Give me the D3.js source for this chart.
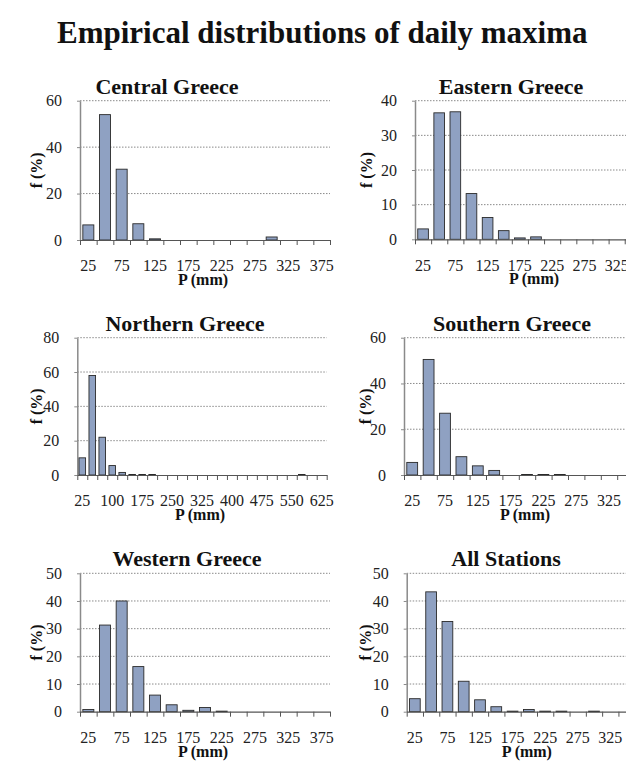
<!DOCTYPE html>
<html><head><meta charset="utf-8"><script src="https://cdn.jsdelivr.net/npm/d3@7"></script></head>
<body style="margin:0">
<svg id="chart" width="626" height="773" font-family="Liberation Serif"></svg>
<script>
// Precipitation classes (mm), 25 mm bins
const pClasses = [25, 50, 75, 100, 125, 150, 175, 200, 225, 250, 275, 300, 325, 350, 375];
const pClassesNorth = [25, 50, 75, 100, 125, 150, 175, 200, 225, 250, 275, 300, 325, 350, 375,
                       400, 425, 450, 475, 500, 525, 550, 575, 600, 625];
const pTickLabels = [25, 75, 125, 175, 225, 275, 325, 375];
const pTickLabelsNorth = [25, 100, 175, 250, 325, 400, 475, 550, 625];

// Relative frequency f (%) of each class, per region
const centralValues  = [6.5, 54, 30.5, 7, 0.5, 0, 0, 0, 0, 0, 0, 1.3, 0, 0, 0];
const easternValues  = [3, 36.5, 36.8, 13.2, 6.3, 2.5, 0.4, 0.7, 0, 0, 0, 0, 0, 0, 0];
const northernValues = [10, 58, 22, 5.5, 1.5, 0.3, 0.3, 0.3, 0, 0, 0, 0, 0, 0, 0,
                        0, 0, 0, 0, 0, 0, 0, 0.3, 0, 0];
const southernValues = [5.5, 50.5, 27, 8, 4, 2, 0, 0.2, 0.2, 0.2, 0, 0, 0, 0, 0];
const westernValues  = [0.8, 31.3, 40, 16.3, 6, 2.5, 0.5, 1.5, 0.2, 0, 0, 0, 0, 0, 0];
const allValues      = [4.7, 43.3, 32.6, 11, 4.3, 1.8, 0.2, 0.8, 0.2, 0.2, 0, 0.2, 0, 0, 0];

// Y-axis ticks per panel
const yTicks60 = [0, 20, 40, 60];
const yTicks40 = [0, 10, 20, 30, 40];
const yTicks80 = [0, 20, 40, 60, 80];
const yTicks50 = [0, 10, 20, 30, 40, 50];

const panelTitles = ["Central Greece", "Eastern Greece", "Northern Greece",
                     "Southern Greece", "Western Greece", "All Stations"];

const panels = [
  { title: panelTitles[0], cats: pClasses, vals: centralValues, ticks: yTicks60, labels: pTickLabels },
  { title: panelTitles[1], cats: pClasses, vals: easternValues, ticks: yTicks40, labels: pTickLabels },
  { title: panelTitles[2], cats: pClassesNorth, vals: northernValues, ticks: yTicks80, labels: pTickLabelsNorth },
  { title: panelTitles[3], cats: pClasses, vals: southernValues, ticks: yTicks60, labels: pTickLabels },
  { title: panelTitles[4], cats: pClasses, vals: westernValues, ticks: yTicks50, labels: pTickLabels },
  { title: panelTitles[5], cats: pClasses, vals: allValues, ticks: yTicks50, labels: pTickLabels }
];

// Plot frames (pixels): left, right, top, bottom, title centre, y-title baseline
const frames = [
  { x0: 80,    x1: 330,   top: 100.7, bottom: 240,   tx: 167, ty: 94,  yl: 42 },
  { x0: 415,   x1: 657,   top: 100.7, bottom: 239.3, tx: 511, ty: 94,  yl: 372 },
  { x0: 77.3,  x1: 326.7, top: 337.7, bottom: 475,   tx: 185, ty: 331, yl: 42 },
  { x0: 404,   x1: 650,   top: 337.7, bottom: 475,   tx: 512, ty: 331, yl: 371 },
  { x0: 80,    x1: 330,   top: 573.3, bottom: 711.7, tx: 187, ty: 566, yl: 42 },
  { x0: 406.7, x1: 651,   top: 573.3, bottom: 711.7, tx: 506, ty: 566, yl: 371 }
];

const FONT = "Liberation Serif";
const barFill = "#8fa1c2";
const svg = d3.select("#chart");

svg.append("text")
  .attr("x", 57).attr("y", 43)
  .attr("font-family", FONT).attr("font-weight", "bold").attr("font-size", 31)
  .attr("fill", "#111")
  .text("Empirical distributions of daily maxima");

panels.forEach((p, i) => {
  const f = frames[i];
  const g = svg.append("g");
  const n = p.cats.length;
  const yMax = p.ticks[p.ticks.length - 1];

  const x = d3.scaleBand().domain(p.cats).range([f.x0, f.x1])
    .paddingInner(0.34).paddingOuter(0.17);
  const xEdge = d3.scaleLinear().domain([0, n]).range([f.x0, f.x1]);
  const y = d3.scaleLinear().domain([0, yMax]).range([f.bottom, f.top]);

  // dotted gridlines
  g.append("g").selectAll("line")
    .data(p.ticks.filter(t => t > 0))
    .join("line")
    .attr("x1", f.x0).attr("x2", f.x1)
    .attr("y1", d => y(d)).attr("y2", d => y(d))
    .attr("stroke", "#8a8a8a").attr("stroke-width", 1)
    .attr("stroke-dasharray", "1.5,1.5");

  // y axis
  const ya = g.append("g").attr("transform", `translate(${f.x0},0)`)
    .call(d3.axisLeft(y).tickValues(p.ticks).tickSize(3).tickPadding(15).tickSizeOuter(0));
  ya.attr("font-family", FONT).attr("font-size", 16);
  ya.select(".domain").attr("stroke", "#8a8a8a").attr("stroke-width", 1.5);
  ya.selectAll(".tick line").attr("stroke", "#8a8a8a");
  ya.selectAll(".tick text").attr("font-family", FONT).attr("fill", "#222");

  // bars
  g.append("g").selectAll("rect")
    .data(p.vals.map((v, k) => ({ c: p.cats[k], v })))
    .join("rect")
    .attr("x", d => x(d.c))
    .attr("width", x.bandwidth())
    .attr("y", d => y(d.v))
    .attr("height", d => y(0) - y(d.v))
    .attr("fill", barFill)
    .attr("stroke", "#2a2a2a").attr("stroke-width", 0.9);

  // x axis line with boundary ticks
  const xa = g.append("g").attr("transform", `translate(0,${f.bottom})`)
    .call(d3.axisBottom(xEdge).tickValues(d3.range(n + 1)).tickSize(5).tickFormat("").tickSizeOuter(0));
  xa.select(".domain").attr("stroke", "#555").attr("stroke-width", 1.2);
  xa.selectAll(".tick line").attr("stroke", "#555");

  // x tick labels
  const xl = g.append("g").attr("transform", `translate(0,${f.bottom})`)
    .call(d3.axisBottom(x).tickValues(p.labels).tickSize(0).tickPadding(20));
  xl.attr("font-family", FONT).attr("font-size", 16);
  xl.select(".domain").remove();
  xl.selectAll(".tick text").attr("font-family", FONT).attr("fill", "#222");

  // axis titles
  g.append("text")
    .attr("x", (f.x0 + f.x1) / 2 - 2).attr("y", f.bottom + 45)
    .attr("text-anchor", "middle")
    .attr("font-family", FONT).attr("font-weight", "bold").attr("font-size", 16).attr("fill", "#111")
    .text("P (mm)");

  g.append("text")
    .attr("transform", `translate(${f.yl},${(f.top + f.bottom) / 2}) rotate(-90)`)
    .attr("text-anchor", "middle")
    .attr("font-family", FONT).attr("font-weight", "bold").attr("font-size", 16).attr("fill", "#111")
    .text("f (%)");

  // panel title
  g.append("text")
    .attr("x", f.tx).attr("y", f.ty)
    .attr("text-anchor", "middle")
    .attr("font-family", FONT).attr("font-weight", "bold").attr("font-size", 22).attr("fill", "#111")
    .text(p.title);
});
</script>
</body></html>
